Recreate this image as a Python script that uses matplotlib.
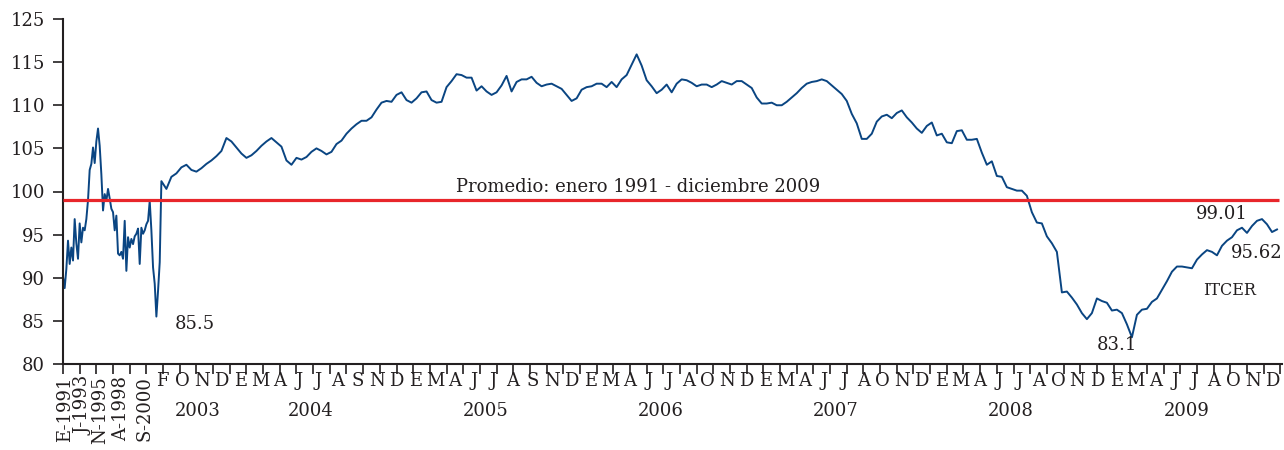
import numpy as np
import matplotlib
matplotlib.use("Agg")
import matplotlib.pyplot as plt
import matplotlib.transforms as mtransforms

# ITCER, tramo comprimido 1991-2003 (paso 0.1 marca)
itcer_9103 = [90.1, 88.8, 91.0, 94.3, 91.6, 93.5, 92.0, 96.8, 94.0, 92.2,
              96.3, 94.1, 95.8, 95.5, 96.8, 99.0, 102.5, 103.2, 105.1, 103.3,
              105.8, 107.3, 105.3, 102.0, 97.8, 99.7, 98.9, 100.3, 99.2, 98.0,
              97.6, 95.5, 97.2, 92.8, 92.6, 93.0, 92.2, 96.6, 90.8, 94.7,
              93.5, 94.5, 93.9, 94.8, 95.1, 95.7, 91.6, 95.8, 95.1, 95.5,
              96.2, 96.6, 98.9, 95.5, 91.2, 89.3, 85.5, 88.5, 91.8, 101.2]

# ITCER diario 2003-2009 (paso 0.3 marca)
itcer_0309 = [100.3, 101.7, 102.1, 102.8, 103.1, 102.5, 102.3, 102.7, 103.2, 103.6,
              104.1, 104.7, 106.2, 105.8, 105.1, 104.4, 103.9, 104.2, 104.7, 105.3,
              105.8, 106.2, 105.7, 105.2, 103.6, 103.1, 103.9, 103.7, 104.0, 104.6,
              105.0, 104.7, 104.3, 104.6, 105.5, 105.9, 106.7, 107.3, 107.8, 108.2,
              108.2, 108.6, 109.5, 110.3, 110.5, 110.4, 111.2, 111.5, 110.6, 110.3,
              110.8, 111.5, 111.6, 110.6, 110.3, 110.4, 112.1, 112.8, 113.6, 113.5,
              113.2, 113.2, 111.7, 112.2, 111.6, 111.2, 111.5, 112.3, 113.4, 111.6,
              112.7, 113.0, 113.0, 113.3, 112.6, 112.2, 112.4, 112.5, 112.2, 111.9,
              111.2, 110.5, 110.8, 111.8, 112.1, 112.2, 112.5, 112.5, 112.1, 112.7,
              112.1, 113.0, 113.5, 114.7, 115.9, 114.6, 112.9, 112.2, 111.4, 111.8,
              112.4, 111.5, 112.5, 113.0, 112.9, 112.6, 112.2, 112.4, 112.4, 112.1,
              112.4, 112.8, 112.6, 112.4, 112.8, 112.8, 112.4, 112.0, 110.9, 110.2,
              110.2, 110.3, 110.0, 110.0, 110.4, 110.9, 111.4, 112.0, 112.5, 112.7,
              112.8, 113.0, 112.8, 112.3, 111.8, 111.3, 110.5, 109.0, 107.9, 106.1,
              106.1, 106.7, 108.1, 108.7, 108.9, 108.5, 109.1, 109.4, 108.6, 108.0,
              107.3, 106.8, 107.6, 108.0, 106.5, 106.7, 105.7, 105.6, 107.0, 107.1,
              106.0, 106.0, 106.1, 104.5, 103.1, 103.5, 101.8, 101.7, 100.5, 100.3,
              100.1, 100.1, 99.5, 97.6, 96.4, 96.3, 94.8, 94.0, 93.0, 88.3,
              88.4, 87.7, 86.9, 85.9, 85.2, 85.9, 87.6, 87.3, 87.1, 86.2,
              86.3, 85.9, 84.6, 83.1, 85.7, 86.3, 86.4, 87.2, 87.6, 88.6,
              89.6, 90.7, 91.3, 91.3, 91.2, 91.1, 92.1, 92.7, 93.2, 93.0,
              92.6, 93.7, 94.3, 94.7, 95.5, 95.8, 95.2, 96.0, 96.6, 96.8,
              96.2, 95.3, 95.6]

promedio = 99.01
ultimo = 95.62

y_ticks = [80, 85, 90, 95, 100, 105, 110, 115, 120]
y_labels = ["80", "85", "90", "95", "100", "105", "110", "115", "125"]
etiquetas_iniciales = ["E-1991", "J-1993", "N-1995", "A-1998", "S-2000"]
meses = [("2003", "FOND"), ("2004", "EMAJJASND"), ("2005", "EMAJJASND"),
         ("2006", "EMAJJAOND"), ("2007", "EMAJJAOND"), ("2008", "EMAJJAOND"),
         ("2009", "EMAJJAOND")]

texto = "#231f20"
plt.rcParams["font.family"] = ["DejaVu Serif"]

fig = plt.figure(figsize=(12.84, 4.5), dpi=100)
ax = fig.add_axes([63 / 1284, 86 / 450, 1219 / 1284, 345 / 450])

x1 = np.arange(len(itcer_9103)) * 0.1
x2 = 6.2 + np.arange(len(itcer_0309)) * 0.3
x = np.concatenate([x1, x2])
y = np.concatenate([itcer_9103, itcer_0309])

ax.plot(x, y, color="#0a4582", lw=1.4, zorder=2)
ax.hlines(promedio, 0, x[-1] + 0.1, color="#e8262b", lw=2.3, zorder=3)

ax.set_xlim(0, 73.1)
ax.set_ylim(80, 120)
ax.set_yticks(y_ticks)
ax.set_yticklabels(y_labels)
ax.set_xticks(np.arange(74))
ax.set_xticklabels([])

for s in ["top", "right"]:
    ax.spines[s].set_visible(False)
for s in ["left", "bottom"]:
    ax.spines[s].set_linewidth(1.5)
    ax.spines[s].set_color(texto)
ax.tick_params(axis="both", length=7, width=1.2, color=texto)
ax.tick_params(axis="y", labelsize=13, pad=6, labelcolor=texto)

# textos dentro del grafico
ax.text(34.5, promedio + 1.5, "Promedio: enero 1991 - diciembre 2009",
        ha="center", va="center", fontsize=13, color=texto)
i1 = int(np.argmin(itcer_9103))
ax.text(x1[i1] + 2.3, itcer_9103[i1] - 0.85, f"{itcer_9103[i1]:.1f}",
        ha="center", va="center", fontsize=13, color=texto)
i2 = int(np.argmin(itcer_0309))
ax.text(x2[i2] - 0.9, itcer_0309[i2] - 0.9, f"{itcer_0309[i2]:.1f}",
        ha="center", va="center", fontsize=13, color=texto)
ax.text(69.5, promedio - 1.6, f"{promedio:.2f}",
        ha="center", va="center", fontsize=13, color=texto)
ax.text(x2[-1] - 1.2, ultimo - 2.7, f"{ultimo:.2f}",
        ha="center", va="center", fontsize=13, color=texto)
ax.text(69.95, 88.5, "ITCER", ha="center", va="center", fontsize=11.5, color=texto)

# etiquetas del eje x
trans = mtransforms.blended_transform_factory(ax.transData, ax.transAxes)
pos_iniciales = [0.15, 1.2, 2.2, 3.5, 4.9]
for px, lab in zip(pos_iniciales, etiquetas_iniciales):
    ax.text(px, -0.035, lab, transform=trans, rotation=90, ha="center", va="top",
            fontsize=13, color=texto)

x0, paso = 5.98, 1.167
k = 0
for anio, letras in meses:
    centro = 1.8 if len(letras) < 9 else 3.6
    ax.text(x0 + paso * (k + centro), -0.136, anio, transform=trans,
            ha="center", va="center", fontsize=13, color=texto)
    for letra in letras:
        ax.text(x0 + paso * k, -0.049, letra, transform=trans,
                ha="center", va="center", fontsize=13, color=texto)
        k += 1

fig.savefig("out.png", dpi=100)
